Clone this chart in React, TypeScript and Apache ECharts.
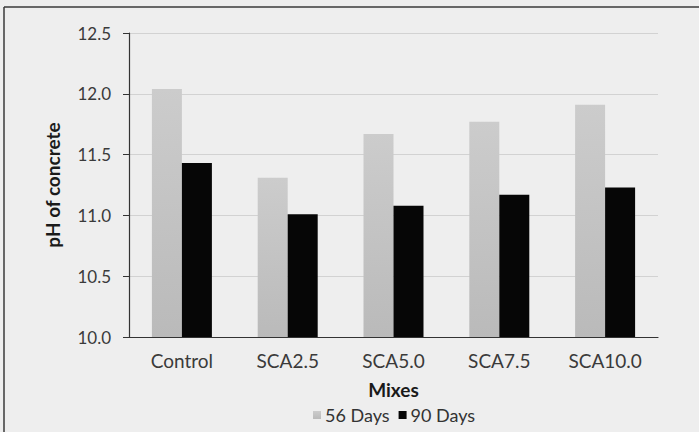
import React, { useEffect, useRef } from "react";
import * as echarts from "echarts";

// Mix designs along the category axis
const mixes = ["Control", "SCA2.5", "SCA5.0", "SCA7.5", "SCA10.0"];
// Concrete pH after each curing age
const ph56Days = [12.04, 11.31, 11.67, 11.77, 11.91];
const ph90Days = [11.43, 11.01, 11.08, 11.17, 11.23];
const seriesNames = ["56 Days", "90 Days"];

const FONT = "Lato, 'Noto Sans', sans-serif";

export default function App() {
  const ref = useRef<HTMLDivElement>(null);

  useEffect(() => {
    document.body.style.margin = "0";
    if (!ref.current) return;
    const chart = echarts.init(ref.current, null, { renderer: "svg" });
    chart.setOption({
      animation: false,
      backgroundColor: "#eeeeee",
      textStyle: { fontFamily: FONT },
      graphic: [
        {
          type: "line",
          shape: { x1: 4, y1: 7, x2: 699, y2: 7 },
          style: { stroke: "#3a3a3a", lineWidth: 1.5 },
        },
        {
          type: "line",
          shape: { x1: 4, y1: 7, x2: 4, y2: 432 },
          style: { stroke: "#3a3a3a", lineWidth: 1.5 },
        },
      ],
      grid: { left: 129, right: 41, top: 33, bottom: 95 },
      legend: {
        data: seriesNames,
        top: 401,
        left: 308,
        itemWidth: 8,
        itemHeight: 8,
        itemGap: 9,
        icon: "rect",
        textStyle: { fontSize: 18, color: "#333333", fontFamily: FONT, padding: [0, 0, 0, -1] },
      },
      xAxis: {
        type: "category",
        data: mixes,
        name: "Mixes",
        nameLocation: "middle",
        nameGap: 43,
        nameTextStyle: { fontSize: 19, fontWeight: "bold", color: "#1a1a1a", fontFamily: FONT },
        axisLine: { lineStyle: { color: "#333333", width: 1.2 } },
        axisTick: { show: false },
        axisLabel: { fontSize: 19, color: "#3a3a3a", margin: 14, fontFamily: FONT },
      },
      yAxis: {
        type: "value",
        min: 10,
        max: 12.5,
        interval: 0.5,
        name: "pH of concrete",
        nameLocation: "middle",
        nameGap: 67,
        nameTextStyle: { fontSize: 19, fontWeight: "bold", color: "#1a1a1a", fontFamily: FONT },
        axisLine: { show: true, lineStyle: { color: "#333333", width: 1.2 } },
        axisTick: { show: true, length: 6, lineStyle: { color: "#333333" } },
        axisLabel: {
          fontSize: 17,
          color: "#3a3a3a",
          margin: 18,
          fontFamily: FONT,
          formatter: (v: number) => v.toFixed(1),
        },
        splitLine: { lineStyle: { color: "#d2d2d2", width: 1 } },
      },
      series: [
        {
          name: seriesNames[0],
          type: "bar",
          data: ph56Days,
          barWidth: 30,
          barGap: "0%",
          itemStyle: {
            color: new echarts.graphic.LinearGradient(0, 0, 0, 1, [
              { offset: 0, color: "#cccccc" },
              { offset: 1, color: "#bababa" },
            ]),
          },
        },
        {
          name: seriesNames[1],
          type: "bar",
          data: ph90Days,
          barWidth: 30,
          barGap: "0%",
          itemStyle: { color: "#060606" },
        },
      ],
    });
    return () => chart.dispose();
  }, []);

  return <div ref={ref} style={{ width: 699, height: 432 }} />;
}
